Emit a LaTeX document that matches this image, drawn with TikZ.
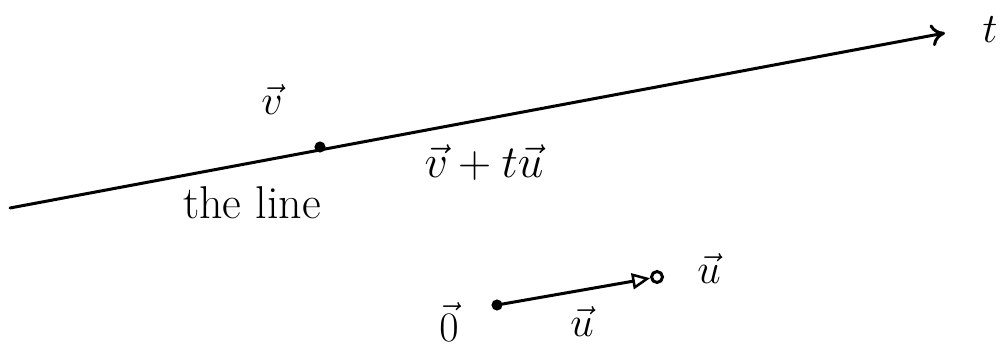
\RequirePackage{fix-cm}
\documentclass[tikz,border=0pt]{standalone}
\usetikzlibrary{arrows.meta}
\begin{document}
\begin{tikzpicture}[x=1pt,y=-1pt,
  ink/.style={line width=3pt,line cap=round},
  lbl/.style={inner sep=0pt,font=\fontsize{42}{46}\selectfont},
  dotmark/.style={circle,draw,fill,line width=2pt,minimum size=9pt,inner sep=0pt}]
\useasboundingbox (0,0) rectangle (1008,358);
% main line
\coordinate (L0) at (10,208);
\coordinate (L1) at (945,33);
\draw[ink,-{To[length=14pt,width=22pt,line width=3pt]}] (L0) -- (L1);
\node[lbl] (t) at (990,30) {$t$};
\node[dotmark] (vdot) at (320,147) {};
\node[lbl] (vlab) at (272,100) {$\vec{v}$};
\node[lbl,anchor=west,font=\fontsize{46}{50}\selectfont] (theline) at (183,203) {the line};
\node[lbl,font=\fontsize{46}{50}\selectfont] (vtu) at (484,163) {$\vec{v}+t\vec{u}$};
% bottom vector
\node[dotmark] (odot) at (497,305) {};
\node[circle,draw,line width=3pt,minimum size=11pt,inner sep=0pt] (udot) at (657,277) {};
\draw[ink,-{Triangle[open,length=18pt,width=16pt,line width=2.5pt]}] (odot) -- (udot);
\node[lbl] (olab) at (449,322) {$\vec{0}$};
\node[lbl] (ulab1) at (582,322) {$\vec{u}$};
\node[lbl] (ulab2) at (709,269) {$\vec{u}$};
\end{tikzpicture}
\end{document}
